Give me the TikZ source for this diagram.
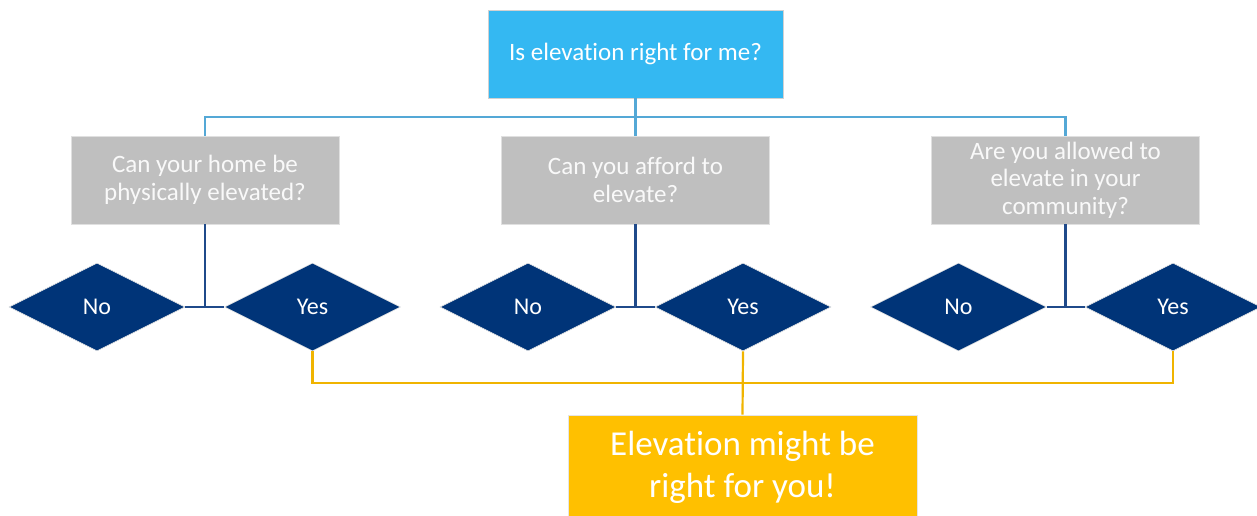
\documentclass[tikz,border=0pt]{standalone}
\usepackage{fontspec}
\setmainfont{Carlito}[Ligatures={NoCommon}]
\usetikzlibrary{shapes.geometric}
\definecolor{topblue}{RGB}{52,184,242}
\definecolor{boxgray}{RGB}{191,191,191}
\definecolor{navy}{RGB}{0,52,120}
\definecolor{gold}{RGB}{255,192,0}
\definecolor{lineblue}{RGB}{84,168,214}
\definecolor{linenavy}{RGB}{31,74,138}
\definecolor{linegold}{RGB}{240,180,0}
\tikzset{
  topbox/.style={rectangle, fill=topblue, draw=black!18, line width=0.8pt, minimum width=295pt, minimum height=88pt, inner sep=0pt, text=white, font=\fontsize{25}{27.5}\selectfont},
  qbox/.style={rectangle, fill=boxgray, draw=black!12, line width=0.8pt, minimum width=268pt, minimum height=88pt, inner sep=0pt, text=white!95!gray, align=center, font=\fontsize{25}{27.5}\selectfont},
  choice/.style={diamond, fill=navy, draw=white!80!gray, line width=0.6pt, minimum width=176pt, minimum height=88pt, inner sep=0pt, text=white, font=\fontsize{24}{26}\selectfont},
  resbox/.style={rectangle, fill=gold, draw=black!10, line width=0.6pt, minimum width=349pt, minimum height=104pt, inner sep=0pt, text=white, align=center, font=\fontsize{35}{42}\selectfont},
  bluelink/.style={draw=lineblue, line width=2.2pt},
  navylink/.style={draw=linenavy, line width=2.2pt},
  goldlink/.style={draw=linegold, line width=2.2pt},
}
\begin{document}
\begin{tikzpicture}[x=1pt,y=-1pt]
\useasboundingbox (0,0) rectangle (1257,515);
\node[topbox] (top) at (635.5,54) {Is elevation right for me?};
\node[qbox] (q1) at (205,180) {Can your home be\\physically elevated?};
\node[qbox] (q2) at (635.5,180) {Can you afford to\\elevate?};
\node[qbox] (q3) at (1065.5,180) {Are you allowed to\\elevate in your\\community?};
\node[choice] (n1) at (97,307) {No};
\node[choice] (y1) at (312.5,307) {Yes};
\node[choice] (n2) at (528,307) {No};
\node[choice] (y2) at (743,307) {Yes};
\node[choice] (n3) at (958.5,307) {No};
\node[choice] (y3) at (1173,307) {Yes};
\node[resbox] (res) at (742.5,467) {Elevation might be\\right for you!};
% blue links
\draw[bluelink] (top.south) -- (q2.north);
\draw[bluelink] (q1.north) -- ++(0,-19) -| (q3.north);
% navy links
\draw[navylink] (q1.south) -- (q1.south |- n1.east);
\draw[navylink] (n1.east) -- (y1.west);
\draw[navylink] (q2.south) -- (q2.south |- n2.east);
\draw[navylink] (n2.east) -- (y2.west);
\draw[navylink] (q3.south) -- (q3.south |- n3.east);
\draw[navylink] (n3.east) -- (y3.west);
% gold links
\draw[goldlink] (y1.south) -- ++(0,32) -| (y3.south);
\draw[goldlink] (y2.south) -- (res.north);
\end{tikzpicture}
\end{document}
